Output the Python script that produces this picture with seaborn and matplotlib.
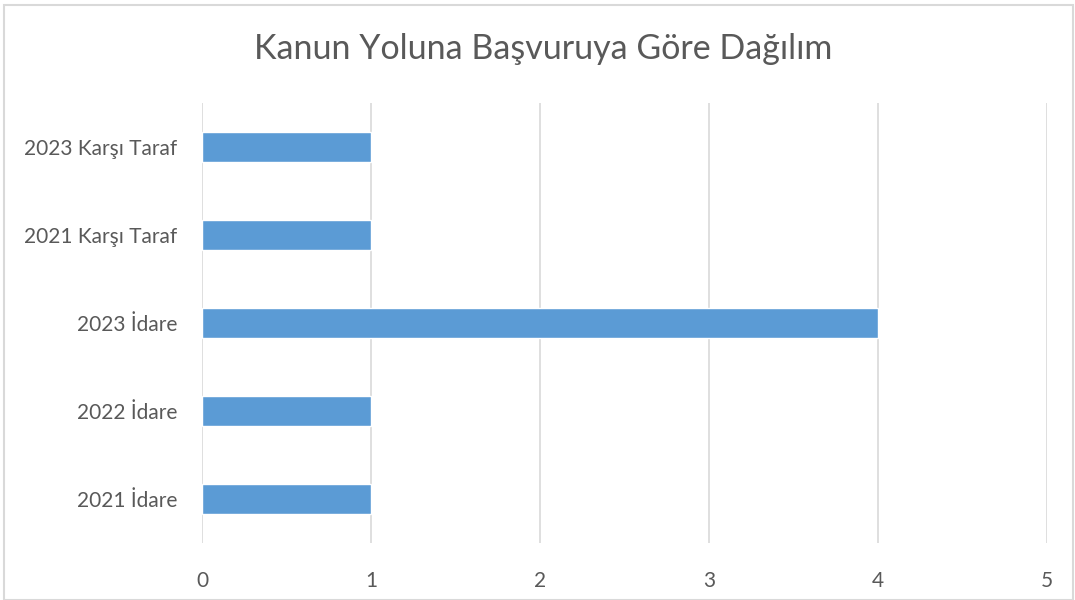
import matplotlib.pyplot as plt
import pandas as pd
import seaborn as sns
from matplotlib.patches import Rectangle

categories = ["2023 Karşı Taraf", "2021 Karşı Taraf", "2023 İdare", "2022 İdare", "2021 İdare"]
values = [1, 1, 4, 1, 1]
x_ticks = [0, 1, 2, 3, 4, 5]

sns.set_style("white")
plt.rcParams["font.family"] = ["Lato", "DejaVu Sans"]
text_color = "#595959"

df = pd.DataFrame({"category": categories, "value": values})

fig = plt.figure(figsize=(10.75, 6), dpi=100)
ax = fig.add_axes([0.1879, 0.095, 0.974 - 0.1879, 0.8283 - 0.095])
sns.barplot(data=df, y="category", x="value", order=categories, color="#5B9BD5",
            saturation=1, width=0.35, ax=ax, zorder=3)

ax.set_xlim(0, 5)
ax.set_ylim(4.5, -0.5)
ax.set_xticks(x_ticks)
ax.set_xticklabels([str(t) for t in x_ticks])
ax.grid(axis="x", color="#D9D9D9", linewidth=1.2, zorder=0)
ax.set_axisbelow(True)
for s in ax.spines.values():
    s.set_visible(False)
ax.tick_params(axis="both", length=0, labelsize=15, labelcolor=text_color)
ax.tick_params(axis="x", pad=20)
ax.tick_params(axis="y", pad=18)
ax.set_xlabel("")
ax.set_ylabel("")

fig.text(0.505, 0.918, "Kanun Yoluna Başvuruya Göre Dağılım", ha="center", va="center",
         fontsize=24.5, color=text_color)

fig.patches.append(Rectangle((0.004, 0.0), 0.994, 0.991, transform=fig.transFigure,
                             fill=False, edgecolor="#D9D9D9", linewidth=1.5))

fig.savefig("out.png", dpi=100)
